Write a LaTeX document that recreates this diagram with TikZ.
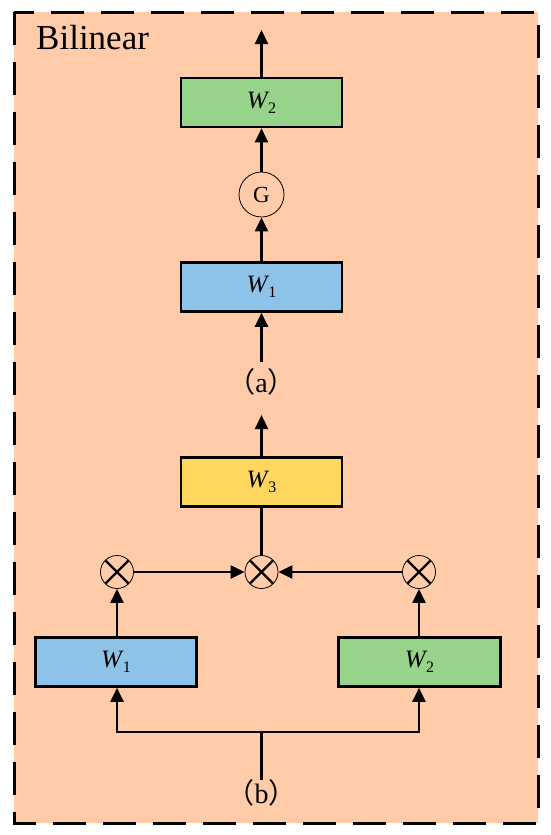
\documentclass[tikz,border=0pt]{standalone}
\usepackage{fontspec}
\setmainfont{Liberation Serif}
\newfontfamily\cjk{Noto Sans CJK SC}
\usetikzlibrary{arrows.meta}
\definecolor{peach}{HTML}{FFCBA8}
\definecolor{wblue}{HTML}{8DC3E8}
\definecolor{wgreen}{HTML}{97D38B}
\definecolor{wyellow}{HTML}{FFD75E}
\newcommand{\Wsub}[2]{{\fontsize{25}{25}\selectfont\itshape W}\kern#2\raisebox{-5pt}{\fontsize{16}{16}\selectfont #1}}
\newcommand{\plab}[1]{{\fontsize{28}{28}\selectfont{\cjk （}#1{\cjk ）}}}
\tikzset{
  wbox/.style={draw, line width=2.6pt, minimum width=161pt, minimum height=49pt, inner sep=0pt},
  arr/.style={line width=2.2pt, -{Triangle[length=14pt,width=13pt]}},
  ln/.style={line width=2.2pt},
  gcirc/.style={draw, circle, line width=0.8pt, minimum size=45pt, inner sep=0pt, font=\fontsize{23}{23}\selectfont},
  otim/.style={draw, circle, line width=0.8pt, minimum size=33pt, inner sep=0pt,
    path picture={\draw[line width=2.4pt] (path picture bounding box.south west) -- (path picture bounding box.north east)
      (path picture bounding box.north west) -- (path picture bounding box.south east);}},
}
\begin{document}
\begin{tikzpicture}[x=1pt,y=-1pt]
\useasboundingbox (0,0) rectangle (550,835);
\fill[white] (0,0) rectangle (550,835);
\draw[fill=peach, line width=3pt, dash pattern=on 33pt off 17pt] (14,12) rectangle (538,823);
\node[anchor=base west, inner sep=0pt, font=\fontsize{35}{35}\selectfont] (title) at (36,49) {Bilinear};

% (a) part
\node[wbox, fill=wgreen] (w2t) at (261.5,102.5) {\Wsub{2}{0.5pt}};
\node[gcirc] (g) at (261.5,194.5) {G};
\node[wbox, fill=wblue] (w1t) at (261.5,287) {\Wsub{1}{1pt}};
\coordinate (topout) at (261.5,30);
\coordinate (ain) at (261.5,362);
\node[inner sep=0pt] (alab) at (261.5,382) {\plab{a}};
\draw[arr] (w2t.north) -- (topout);
\draw[arr] (g.north) -- (w2t.south);
\draw[arr] (w1t.north) -- (g.south);
\draw[arr] (ain) -- (w1t.south);

% (b) part
\coordinate (w3out) at (261.5,415);
\node[wbox, fill=wyellow] (w3) at (261.5,482) {\Wsub{3}{1pt}};
\node[otim] (oc) at (261.5,572) {};
\node[otim] (ol) at (117,572) {};
\node[otim] (or) at (419,572) {};
\node[wbox, fill=wblue, minimum width=161.5pt] (w1b) at (116,662) {\Wsub{1}{1pt}};
\node[wbox, fill=wgreen, minimum width=162.5pt] (w2b) at (419.5,662) {\Wsub{2}{0.5pt}};
\coordinate (bin) at (261.5,780);
\coordinate (bj) at (261.5,732);
\coordinate (bl) at (117,732);
\coordinate (br) at (419,732);
\node[inner sep=0pt] (blab) at (261.5,793) {\plab{b}};

\draw[arr] (w3.north) -- (w3out);
\draw[ln] (w3.south) -- (oc.north);
\draw[arr] (ol.east) -- (oc.west);
\draw[arr] (or.west) -- (oc.east);
\draw[arr] (w1b.north -| ol) -- (ol.south);
\draw[arr] (w2b.north -| or) -- (or.south);
\draw[ln] (bin) -- (bj);
\draw[arr] (bj) -- (bl) -- (bl |- w1b.south);
\draw[arr] (bj) -- (br) -- (br |- w2b.south);
\end{tikzpicture}
\end{document}
